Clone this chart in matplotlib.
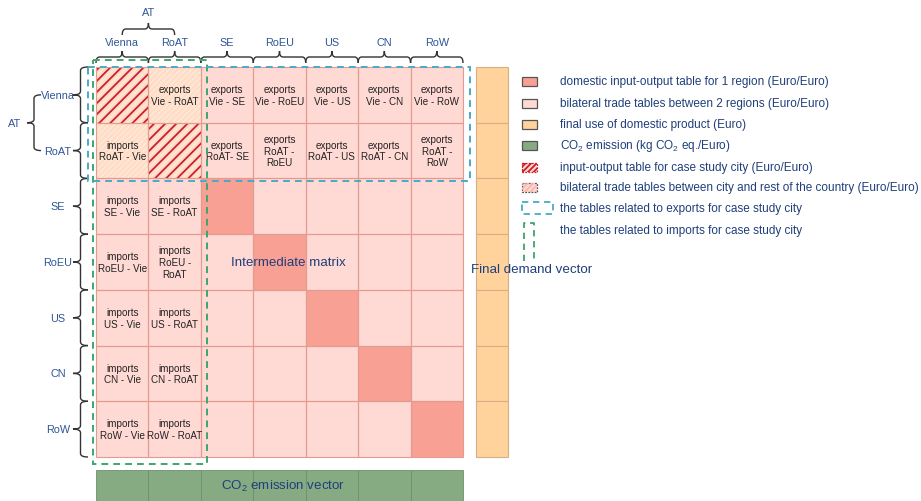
import matplotlib
matplotlib.use("Agg")
import matplotlib.pyplot as plt
from matplotlib.patches import Rectangle, PathPatch
from matplotlib.path import Path

plt.rcParams['font.family'] = ['Liberation Sans', 'DejaVu Sans']
plt.rcParams['mathtext.fontset'] = 'custom'
plt.rcParams['mathtext.rm'] = 'Liberation Sans'
plt.rcParams['mathtext.default'] = 'regular'
plt.rcParams['hatch.linewidth'] = 1.3

# ---------------- data ----------------
regions = ["Vienna", "RoAT", "SE", "RoEU", "US", "CN", "RoW"]
group_label = "AT"
group_members = ["Vienna", "RoAT"]

cell_text = [
    ["", "exports\nVie - RoAT", "exports\nVie - SE", "exports\nVie - RoEU", "exports\nVie - US", "exports\nVie - CN", "exports\nVie - RoW"],
    ["imports\nRoAT - Vie", "", "exports\nRoAT- SE", "exports\nRoAT -\nRoEU", "exports\nRoAT - US", "exports\nRoAT - CN", "exports\nRoAT -\nRoW"],
    ["imports\nSE - Vie", "imports\nSE - RoAT", "", "", "", "", ""],
    ["imports\nRoEU - Vie", "imports\nRoEU -\nRoAT", "", "", "", "", ""],
    ["imports\nUS - Vie", "imports\nUS - RoAT", "", "", "", "", ""],
    ["imports\nCN - Vie", "imports\nCN - RoAT", "", "", "", "", ""],
    ["imports\nRoW - Vie", "imports\nRoW - RoAT", "", "", "", "", ""],
]

legend_labels = [
    "domestic input-output table for 1 region (Euro/Euro)",
    "bilateral trade tables between 2 regions (Euro/Euro)",
    "final use of domestic product (Euro)",
    "CO$_2$ emission (kg CO$_2$ eq./Euro)",
    "input-output table for case study city (Euro/Euro)",
    "bilateral trade tables between city and rest of the country (Euro/Euro)",
    "the tables related to exports for case study city",
    "the tables related to imports for case study city",
]

matrix_label = "Intermediate matrix"
demand_label = "Final demand vector"
emission_label = "CO$_2$ emission vector"

# ---------------- styles ----------------
C_DOM = "#F9A094"
C_TRADE = "#FFD9D3"
C_EDGE = "#E39A90"
C_FINAL = "#FFD39B"
C_FINAL_EDGE = "#D8AE86"
C_CO2 = "#86AB83"
C_CO2_EDGE = "#6E906B"
C_HATCH = "#CC1F26"
C_PALE = "#FFEAC6"
C_CYAN = "#4AAAC8"
C_GREEN = "#3EA56C"
C_BLUE = "#2F5597"
C_DARKBLUE = "#1F3F7A"
C_BRACE = "#333333"

FS_CELL = 7.1
FS_LAB = 7.8
FS_LEG = 8.5
FS_BIG = 9.6

fig = plt.figure(figsize=(9.21, 5.02), dpi=100)
ax = fig.add_axes([0, 0, 1, 1])
ax.set_xlim(0, 921)
ax.set_ylim(502, 0)
ax.axis("off")

n = len(regions)
x0, y0 = 96.0, 68.0
cw, ch = (463.0 - 96.0) / n, (458.0 - 68.0) / n
xs = [x0 + i * cw for i in range(n + 1)]
ys = [y0 + i * ch for i in range(n + 1)]
city = {regions.index(m) for m in group_members}


def hatch_patch(x, y, w, h, color, pattern, z):
    ax.add_patch(Rectangle((x, y), w, h, fill=False, edgecolor=color, lw=0,
                           hatch=pattern, zorder=z))


# matrix cells
for r in range(n):
    for c in range(n):
        x, y = xs[c], ys[r]
        base = C_DOM if r == c else C_TRADE
        if r in city and c in city:
            base = C_TRADE
        ax.add_patch(Rectangle((x, y), cw, ch, facecolor=base, edgecolor="none", zorder=1))
        if r in city and c in city:
            hatch_patch(x, y, cw, ch, C_PALE, "//////", 2)
            if r == c:
                hatch_patch(x, y, cw, ch, C_HATCH, "///", 3)
        ax.add_patch(Rectangle((x, y), cw, ch, fill=False, edgecolor=C_EDGE, lw=0.8, zorder=4))
        if cell_text[r][c]:
            ax.text(x + cw / 2, y + ch / 2, cell_text[r][c], ha="center", va="center",
                    fontsize=FS_CELL, color="#222222", linespacing=1.2, zorder=6)

# final demand column
fx0, fx1 = 476, 508
for r in range(n):
    ax.add_patch(Rectangle((fx0, ys[r]), fx1 - fx0, ch, facecolor=C_FINAL,
                           edgecolor=C_FINAL_EDGE, lw=0.8, zorder=1))

# CO2 emission row
for c in range(n):
    ax.add_patch(Rectangle((xs[c], 471), cw, 40, facecolor=C_CO2,
                           edgecolor=C_CO2_EDGE, lw=0.6, zorder=1))

ax.text(283, 486, emission_label, ha="center", va="center",
        fontsize=FS_BIG, color=C_DARKBLUE, zorder=7)
ax.text(288, 263, matrix_label, ha="center", va="center",
        fontsize=FS_BIG, color=C_DARKBLUE, zorder=7)
ax.text(471, 270, demand_label, ha="left", va="center",
        fontsize=FS_BIG, color=C_DARKBLUE, zorder=7)

# dashed boxes
dash = (0, (3.5, 2.6))
ax.add_patch(Rectangle((93, 61), 207 - 93, 465 - 61, fill=False, edgecolor=C_GREEN,
                       lw=1.4, linestyle=dash, zorder=8))
ax.add_patch(Rectangle((88, 68), 470 - 88, 182 - 68, fill=False, edgecolor=C_CYAN,
                       lw=1.4, linestyle=dash, zorder=8))


# braces
def brace_h(xa, xb, yb, yt, r=3.5):
    ym = (yb + yt) / 2
    xc = (xa + xb) / 2
    verts = [(xa, yb), (xa, ym), (xa + r, ym), (xc - r, ym), (xc, ym), (xc, yt),
             (xc, ym), (xc + r, ym), (xb - r, ym), (xb, ym), (xb, yb)]
    codes = [Path.MOVETO, Path.CURVE3, Path.CURVE3, Path.LINETO, Path.CURVE3, Path.CURVE3,
             Path.CURVE3, Path.CURVE3, Path.LINETO, Path.CURVE3, Path.CURVE3]
    ax.add_patch(PathPatch(Path(verts, codes), fill=False, edgecolor=C_BRACE, lw=1.0, zorder=5))


def brace_v(ya, yb_, xb, xt, r=3.5):
    xm = (xb + xt) / 2
    yc = (ya + yb_) / 2
    verts = [(xb, ya), (xm, ya), (xm, ya + r), (xm, yc - r), (xm, yc), (xt, yc),
             (xm, yc), (xm, yc + r), (xm, yb_ - r), (xm, yb_), (xb, yb_)]
    codes = [Path.MOVETO, Path.CURVE3, Path.CURVE3, Path.LINETO, Path.CURVE3, Path.CURVE3,
             Path.CURVE3, Path.CURVE3, Path.LINETO, Path.CURVE3, Path.CURVE3]
    ax.add_patch(PathPatch(Path(verts, codes), fill=False, edgecolor=C_BRACE, lw=1.0, zorder=5))


for i, name in enumerate(regions):
    # column
    brace_h(xs[i], xs[i + 1], 64, 52)
    ax.text((xs[i] + xs[i + 1]) / 2, 43, name, ha="center", va="center",
            fontsize=FS_LAB, color=C_BLUE)
    # row
    brace_v(ys[i], ys[i + 1], 88, 73)
    ax.text(58, (ys[i] + ys[i + 1]) / 2, name, ha="center", va="center",
            fontsize=FS_LAB, color=C_BLUE)

gi = sorted(city)
gxa = (xs[gi[0]] + xs[gi[0] + 1]) / 2
gxb = (xs[gi[-1]] + xs[gi[-1] + 1]) / 2
brace_h(gxa, gxb, 36, 24)
ax.text((gxa + gxb) / 2, 13, group_label, ha="center", va="center", fontsize=FS_LAB, color=C_BLUE)
gya = (ys[gi[0]] + ys[gi[0] + 1]) / 2
gyb = (ys[gi[-1]] + ys[gi[-1] + 1]) / 2
brace_v(gya, gyb, 41, 27)
ax.text(15, (gya + gyb) / 2, group_label, ha="center", va="center", fontsize=FS_LAB, color=C_BLUE)

# legend
leg_y = [82, 104, 125, 146, 168, 188, 209, 231]
sx, sw, sh = 522, 15, 9
swatches = [C_DOM, C_TRADE, C_FINAL, C_CO2]
for k in range(4):
    ax.add_patch(Rectangle((sx, leg_y[k] - sh / 2), sw, sh, facecolor=swatches[k],
                           edgecolor="#555555", lw=0.9))
# hatched city swatch
ax.add_patch(Rectangle((sx, leg_y[4] - sh / 2), sw, sh, facecolor=C_TRADE, edgecolor="none"))
hatch_patch(sx, leg_y[4] - sh / 2, sw, sh, C_HATCH, "//////", 2)
ax.add_patch(Rectangle((sx, leg_y[4] - sh / 2), sw, sh, fill=False, edgecolor=C_HATCH,
                       lw=0.9, linestyle=(0, (1.5, 1))))
# pale city-rest swatch
ax.add_patch(Rectangle((sx, leg_y[5] - sh / 2), sw, sh, facecolor=C_TRADE, edgecolor="none"))
hatch_patch(sx, leg_y[5] - sh / 2, sw, sh, "#F6B8AE", "//////", 2)
ax.add_patch(Rectangle((sx, leg_y[5] - sh / 2), sw, sh, fill=False, edgecolor="#555555",
                       lw=0.9, linestyle=(0, (1.5, 1))))
# cyan dashed
ax.add_patch(Rectangle((sx, leg_y[6] - 6), 31, 12, fill=False, edgecolor=C_CYAN,
                       lw=1.3, linestyle=dash))
# green dashed (open bottom)
ax.plot([524, 524, 534, 534], [262, 224, 224, 262], color=C_GREEN, lw=1.3,
        linestyle=dash, solid_capstyle="butt")

for k, lab in enumerate(legend_labels):
    ax.text(560, leg_y[k], lab, ha="left", va="center", fontsize=FS_LEG, color=C_DARKBLUE)

fig.savefig("out.png", dpi=100)
